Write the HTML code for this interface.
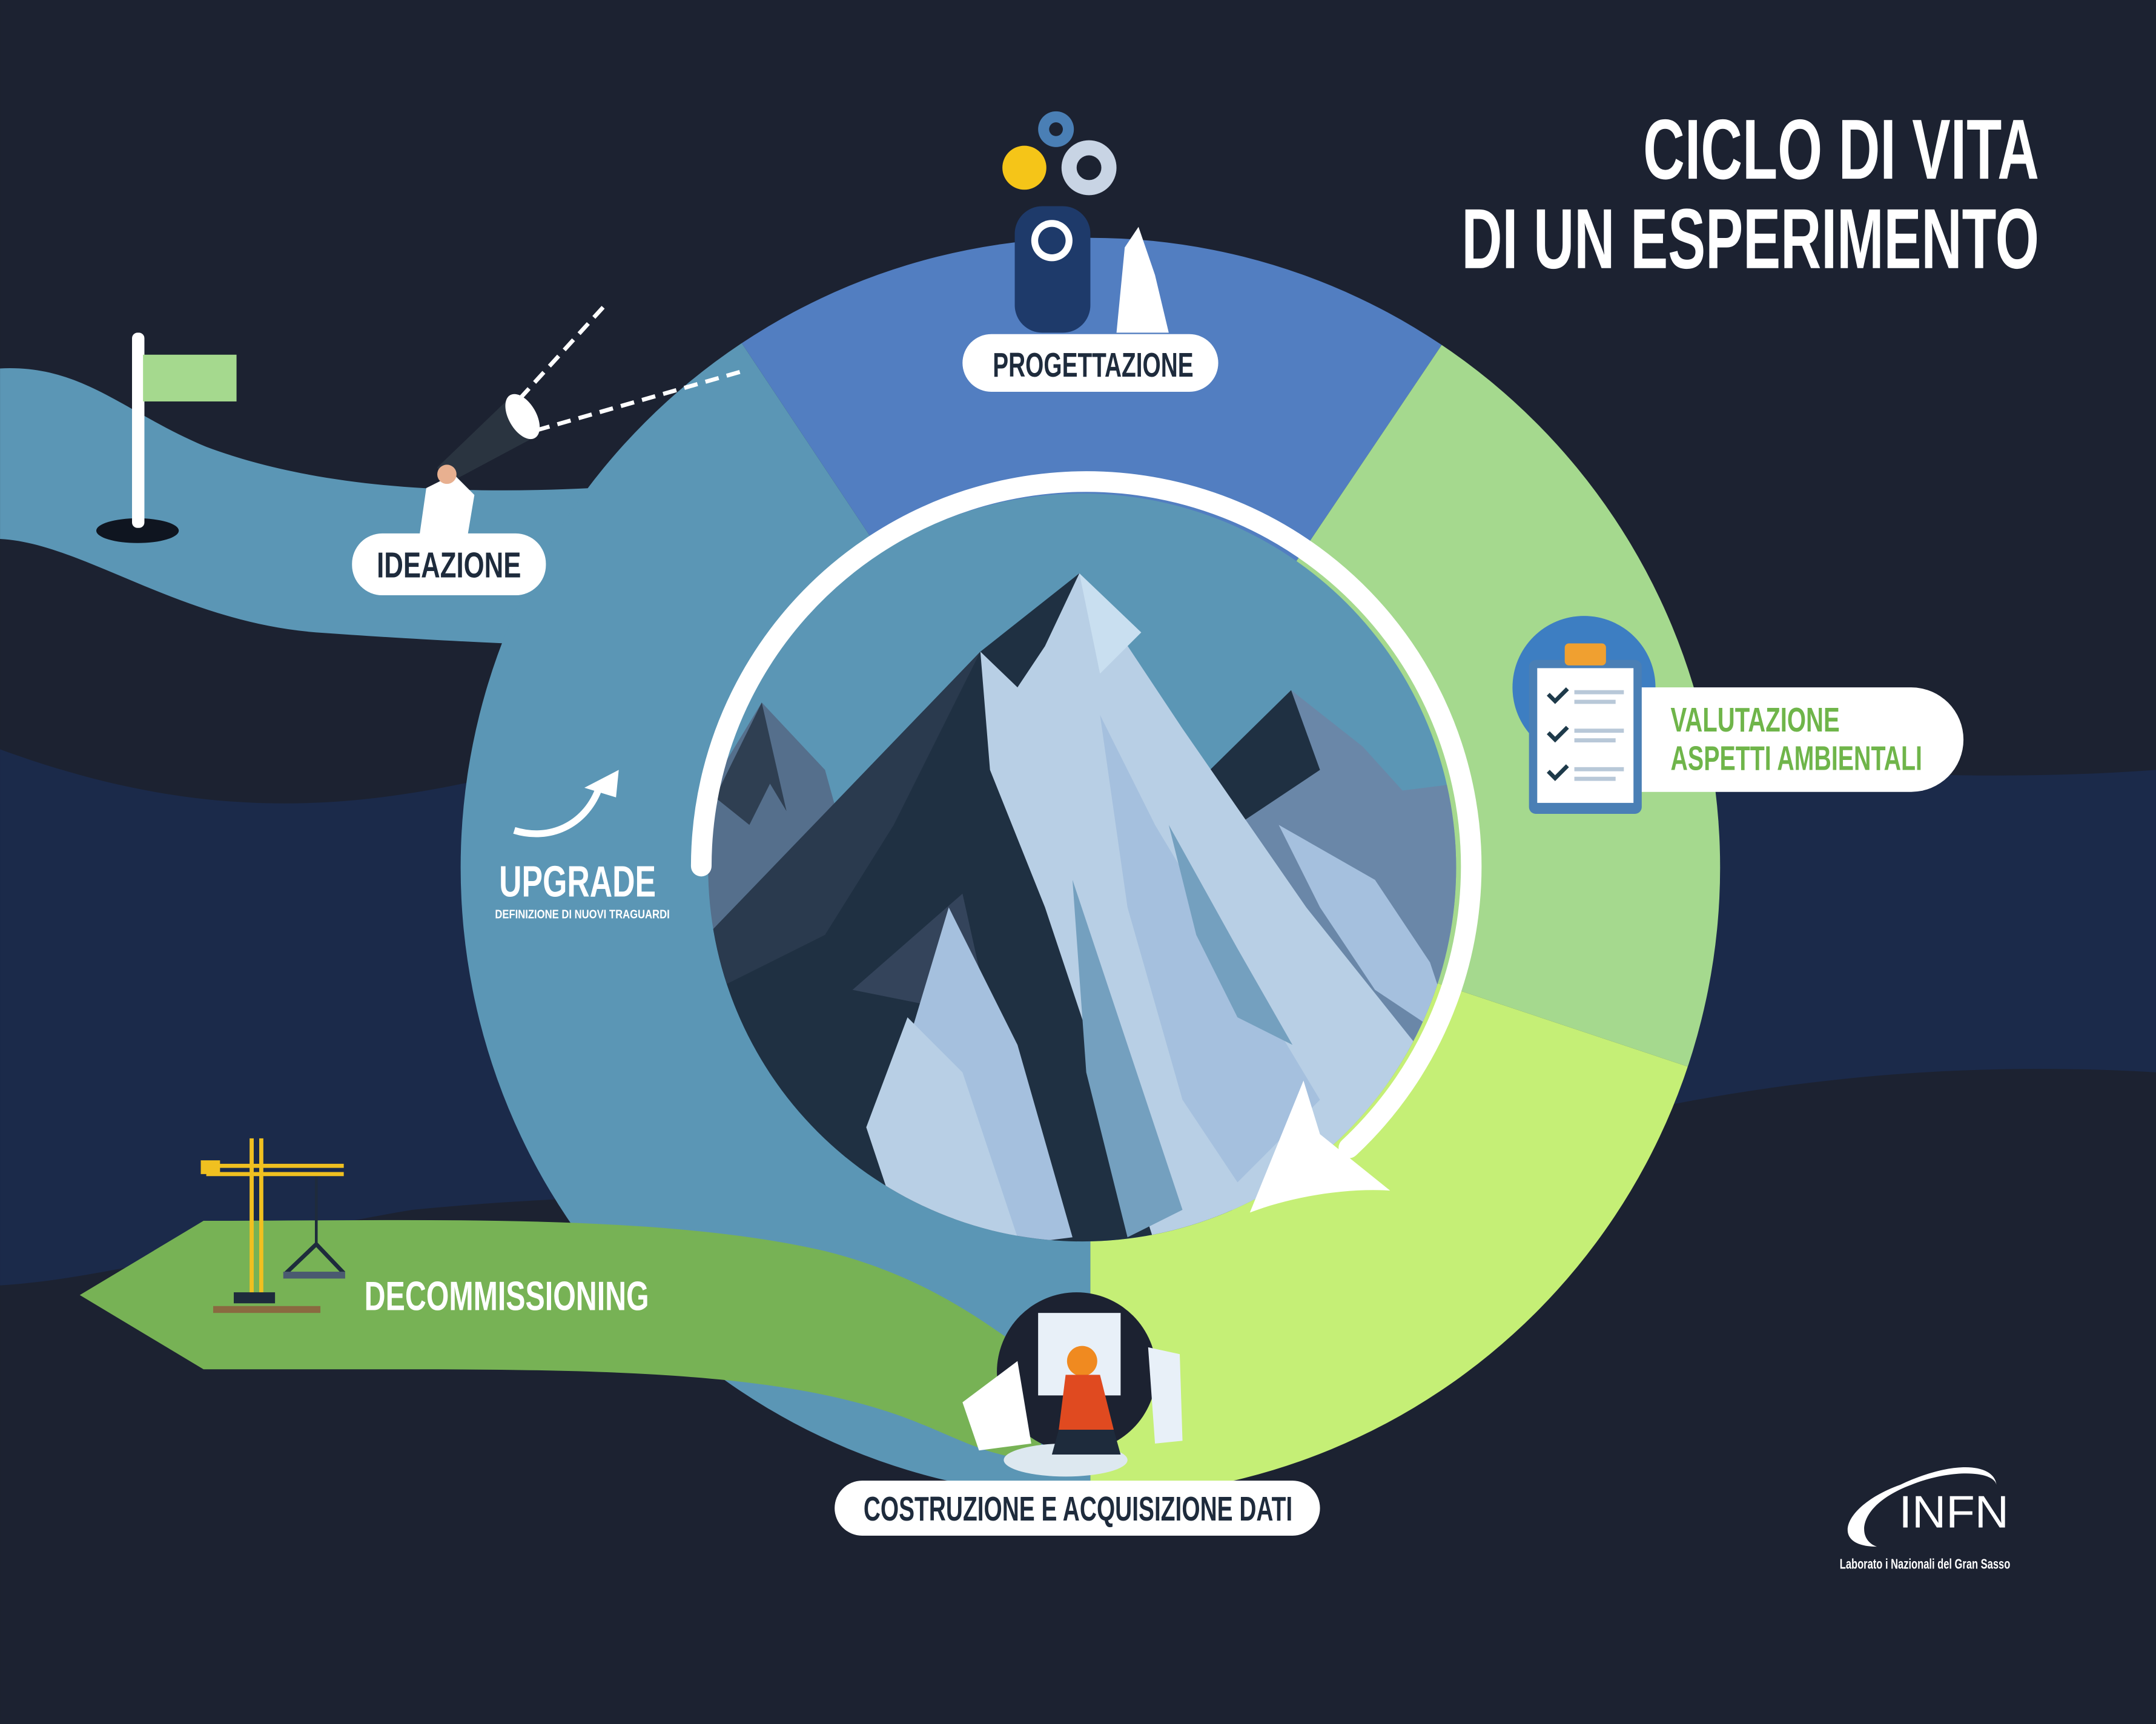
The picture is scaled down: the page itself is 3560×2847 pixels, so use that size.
<!DOCTYPE html>
<html><head><meta charset="utf-8"><style>
html,body{margin:0;padding:0;background:#1c2231;}
svg{display:block}
.t{font-family:"Liberation Sans Narrow","Liberation Sans",sans-serif;font-weight:bold;}
</style></head><body>
<svg width="3560" height="2847" viewBox="0 0 1568 1254" xmlns="http://www.w3.org/2000/svg">
<rect width="1568" height="1254" fill="#1c2231"/>
<path d="M0,545 C150,600 260,590 380,560 L700,520 C1000,520 1300,580 1568,560 L1568,780 C1400,770 1250,790 1100,830 C800,870 500,860 300,880 C180,900 80,930 0,935 Z" fill="#1b2a4a"/>
<path d="M0,268 C60,265 90,300 150,325 C230,355 330,360 430,355 L540,340 L420,470 C360,468 300,465 230,460 C130,452 60,395 0,392 Z" fill="#5b96b5"/>
<defs>
<clipPath id="ring"><circle cx="793" cy="631" r="458"/></clipPath>
<clipPath id="mc"><circle cx="787" cy="631" r="272"/></clipPath>
</defs>
<g clip-path="url(#ring)">
<path d="M793,631 L793,1120 L300,1120 L300,100 L440,100 Z" fill="#5b96b5"/>
<path d="M793,631 L440,100 L1150,100 Z" fill="#527ec1"/>
<path d="M793,631 L1150,100 L1300,100 L1300,800 Z" fill="#a5d98e"/>
<path d="M793,631 L1300,800 L1300,1120 L793,1120 Z" fill="#c5ef76"/>
</g>
<path d="M58,942 L148,888 C300,888 480,882 600,910 C660,925 700,950 735,975 L760,1060 C720,1065 690,1040 640,1025 C560,1000 450,996 300,996 L148,996 Z" fill="#77b255"/>
<g clip-path="url(#mc)">
<rect x="500" y="350" width="580" height="560" fill="#5b96b5"/>
<polygon points="554,511 500,600 505,720 625,650 600,560" fill="#556f8c"/>
<polygon points="554,511 520,580 545,600 560,570 572,590" fill="#2f3f52"/>
<polygon points="939,502 991,543 1020,575 1060,570 1070,800 900,760 880,560" fill="#6a87a8"/>
<polygon points="939,502 880,560 900,600 960,560" fill="#1f3042"/>
<polygon points="713,474 785,417 800,490 840,600 880,760 900,910 560,910 500,800 505,690" fill="#1f3042"/>
<polygon points="713,474 505,690 520,720 600,680 650,600" fill="#2a3a4e"/>
<polygon points="620,720 700,650 720,740" fill="#34445b"/>
<polygon points="785,417 860,530 950,660 1030,760 1060,820 960,900 840,905 800,780 760,660 720,560 713,474 740,500 760,470" fill="#b8cfe5"/>
<polygon points="800,520 840,600 900,700 960,800 900,860 860,800 820,660" fill="#a5c0de"/>
<polygon points="930,600 1000,640 1040,700 1060,760 1000,720 960,660" fill="#a5c0de"/>
<polygon points="850,600 900,690 940,760 900,740 870,680" fill="#74a0bf"/>
<polygon points="690,660 740,760 780,900 700,910 660,760" fill="#a5c0de"/>
<polygon points="660,740 700,780 740,900 660,910 630,820" fill="#b8cfe5"/>
<polygon points="780,640 820,760 860,880 820,900 790,780" fill="#74a0bf"/>
<polygon points="785,417 800,490 830,460" fill="#c9dff0"/>
</g>
<path d="M510,630 A280,280 0 1 1 981,835" fill="none" stroke="#fff" stroke-width="15" stroke-linecap="round"/>
<path d="M909,882 L948,786 L960,825 L1011,866 C980,864 940,870 909,882 Z" fill="#fff"/>
<path d="M374,604 C400,612 425,600 435,575" fill="none" stroke="#fff" stroke-width="5"/>
<polygon points="425,573 450,560 448,580" fill="#fff"/>
<text class="t" x="363" y="652" fill="#fff" font-size="32" textLength="114" lengthAdjust="spacingAndGlyphs">UPGRADE</text>
<text class="t" x="360" y="668" fill="#fff" font-size="9" textLength="127" lengthAdjust="spacingAndGlyphs">DEFINIZIONE DI NUOVI TRAGUARDI</text>
<ellipse cx="100" cy="386" rx="30" ry="9" fill="#0f1520"/>
<rect x="96" y="242" width="9" height="142" rx="4" fill="#fff"/>
<rect x="104" y="258" width="68" height="34" fill="#a5d98e"/>
<line x1="390" y1="313" x2="540" y2="270" stroke="#fff" stroke-width="3" stroke-dasharray="10,6"/>
<line x1="378" y1="290" x2="440" y2="222" stroke="#fff" stroke-width="3" stroke-dasharray="10,6"/>
<polygon points="318,340 370,290 385,320 325,352" fill="#2a3440"/>
<ellipse cx="380" cy="303" rx="10" ry="18" fill="#fff" transform="rotate(-30 380 303)"/>
<path d="M305,390 L310,355 L330,345 L345,360 L340,390 Z" fill="#fff"/>
<circle cx="325" cy="345" r="7" fill="#e8b090"/>
<rect x="738" y="150" width="55" height="92" rx="20" fill="#1e3a6a"/>
<circle cx="765" cy="175" r="15" fill="#fff"/><circle cx="765" cy="175" r="10" fill="#1e3a6a"/>
<circle cx="745" cy="122" r="16" fill="#f5c518"/>
<circle cx="792" cy="122" r="20" fill="#c8d4e4"/><circle cx="792" cy="122" r="9" fill="#1c2231"/>
<circle cx="768" cy="94" r="13" fill="#4a7fb5"/><circle cx="768" cy="94" r="5" fill="#1c2231"/>
<path d="M812,242 L818,180 L828,165 L840,200 L850,242 Z" fill="#fff"/>
<circle cx="1152" cy="500" r="52" fill="#3d7ec2"/>
<rect x="1150" y="500" width="278" height="76" rx="38" fill="#fff"/>
<rect x="1112" y="480" width="82" height="112" rx="5" fill="#4a7fb5"/>
<rect x="1118" y="486" width="70" height="98" fill="#fff"/>
<rect x="1138" y="468" width="30" height="16" rx="3" fill="#f0a030"/>
<g stroke="#1e3a4a" stroke-width="3" fill="none"><path d="M1126,505 l5,5 l9,-9"/><path d="M1126,533 l5,5 l9,-9"/><path d="M1126,561 l5,5 l9,-9"/></g>
<g fill="#b8c8d8"><rect x="1145" y="502" width="36" height="3"/><rect x="1145" y="509" width="30" height="3"/><rect x="1145" y="530" width="36" height="3"/><rect x="1145" y="537" width="30" height="3"/><rect x="1145" y="558" width="36" height="3"/><rect x="1145" y="565" width="30" height="3"/></g>
<text class="t" x="1215" y="532" fill="#6fb54a" font-size="25" textLength="123" lengthAdjust="spacingAndGlyphs">VALUTAZIONE</text>
<text class="t" x="1215" y="560" fill="#6fb54a" font-size="25" textLength="183" lengthAdjust="spacingAndGlyphs">ASPETTI AMBIENTALI</text>
<circle cx="783" cy="998" r="58" fill="#1c2231"/>
<ellipse cx="775" cy="1062" rx="45" ry="12" fill="#dde8f0"/>
<rect x="755" y="955" width="60" height="60" fill="#e8f0f8"/>
<path d="M700,1020 L740,990 L750,1050 L712,1055 Z" fill="#fff"/>
<path d="M835,980 L858,985 L860,1048 L840,1050 Z" fill="#e8f0f8"/>
<circle cx="787" cy="990" r="11" fill="#f08a20"/>
<path d="M775,1000 L800,1000 L810,1040 L770,1040 Z" fill="#e04a20"/>
<path d="M770,1040 L810,1040 L815,1058 L765,1058 Z" fill="#1e2b3c"/>
<g stroke="#f0c020" stroke-width="3" fill="none">
<line x1="183" y1="828" x2="183" y2="945"/><line x1="190" y1="828" x2="190" y2="945"/>
<line x1="150" y1="848" x2="250" y2="848"/><line x1="150" y1="854" x2="250" y2="854"/>
</g>
<rect x="146" y="844" width="14" height="10" fill="#f0c020"/>
<line x1="230" y1="856" x2="230" y2="905" stroke="#1e2b3c" stroke-width="2"/>
<path d="M208,926 L230,905 L250,926" stroke="#1e2b3c" stroke-width="3" fill="none"/>
<rect x="206" y="925" width="45" height="5" fill="#4a5a70"/>
<rect x="155" y="950" width="78" height="5" fill="#8a6a40"/>
<rect x="170" y="940" width="30" height="8" fill="#1e2b3c"/>
<rect x="700" y="243" width="186" height="42" rx="21" fill="#fff"/>
<text class="t" x="722" y="274" fill="#1e2b3c" font-size="25" textLength="146" lengthAdjust="spacingAndGlyphs">PROGETTAZIONE</text>
<rect x="256" y="388" width="141" height="45" rx="22" fill="#fff"/>
<text class="t" x="274" y="420" fill="#1e2b3c" font-size="26" textLength="105" lengthAdjust="spacingAndGlyphs">IDEAZIONE</text>
<rect x="607" y="1077" width="353" height="40" rx="20" fill="#fff"/>
<text class="t" x="628" y="1106" fill="#1e2b3c" font-size="25" textLength="312" lengthAdjust="spacingAndGlyphs">COSTRUZIONE E ACQUISIZIONE DATI</text>
<text class="t" x="265" y="953" fill="#fff" font-size="30" textLength="207" lengthAdjust="spacingAndGlyphs">DECOMMISSIONING</text>
<text class="t" x="1483" y="130" text-anchor="end" fill="#fff" font-size="62" textLength="288" lengthAdjust="spacingAndGlyphs">CICLO DI VITA</text>
<text class="t" x="1483" y="195" text-anchor="end" fill="#fff" font-size="62" textLength="420" lengthAdjust="spacingAndGlyphs">DI UN ESPERIMENTO</text>
<path d="M1382,1080 C1340,1095 1330,1125 1365,1125 C1350,1120 1350,1095 1390,1080 C1420,1068 1450,1070 1452,1080 C1450,1064 1420,1062 1382,1080 Z" fill="#fff"/>
<text x="1381" y="1111" fill="#fff" font-family="Liberation Sans, sans-serif" font-size="33" textLength="80" lengthAdjust="spacingAndGlyphs">INFN</text>
<text class="t" x="1338" y="1141" fill="#fff" font-size="10" textLength="124" lengthAdjust="spacingAndGlyphs">Laborato  i Nazionali del Gran Sasso</text>
</svg>
</body></html>
